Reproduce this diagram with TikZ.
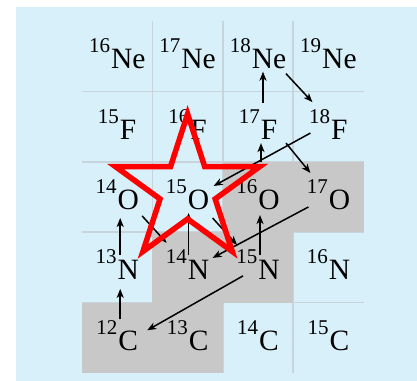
\documentclass[tikz,border=0pt]{standalone}
\usepackage{fontspec}
\setmainfont{Liberation Serif}
\usetikzlibrary{arrows.meta}
\definecolor{skyblue}{RGB}{215,240,250}
\definecolor{gridgrey}{RGB}{200,212,220}
\definecolor{stablegrey}{RGB}{200,200,200}
\definecolor{starred}{RGB}{255,0,0}
\newcommand{\nuc}[2]{\raisebox{16pt}{\fontsize{21}{21}\selectfont #1}\kern1pt#2}
\tikzset{
    nuclide/.style={
        inner sep=0pt,
        font=\fontsize{29.5}{31}\selectfont,
        yshift=2.5pt
    },
    decay/.style={
        -{Stealth[length=9pt,width=7pt,inset=2.5pt]},
        line width=1.5pt
    },
    gridline/.style={gridgrey, line width=1.6pt},
    highlight/.style={draw=starred, line width=5.5pt, line join=miter}
}

\begin{document}
\begin{tikzpicture}[x=70.4pt,y=70.4pt]

% Frame and background
\useasboundingbox (-1.1648,-0.1136) rectangle (4.7585,5.2983);
\fill[skyblue] (-0.9375,-0.1136) rectangle (4.7585,5.1989);

% Grid
\foreach \i in {1,2,3}
    \draw[gridline] (\i,0) -- (\i,5);
\foreach \j in {1,2,3,4}
    \draw[gridline] (0,\j) -- (4,\j);

% Stable nuclei
\fill[stablegrey] (0,0) rectangle (2,1);
\fill[stablegrey] (1,1) rectangle (3,2);
\fill[stablegrey] (2,2) rectangle (4,3);

% Neon
\node[nuclide] (ne16) at (0.5,4.5) {\nuc{16}{Ne}};
\node[nuclide] (ne17) at (1.5,4.5) {\nuc{17}{Ne}};
\node[nuclide] (ne18) at (2.5,4.5) {\nuc{18}{Ne}};
\node[nuclide] (ne19) at (3.5,4.5) {\nuc{19}{Ne}};

% Fluorine
\node[nuclide] (f15) at (0.5,3.5) {\nuc{15}{F}};
\node[nuclide] (f16) at (1.5,3.5) {\nuc{16}{F}};
\node[nuclide] (f17) at (2.5,3.5) {\nuc{17}{F}};
\node[nuclide] (f18) at (3.5,3.5) {\nuc{18}{F}};

% Oxygen
\node[nuclide] (o14) at (0.5,2.5) {\nuc{14}{O}};
\node[nuclide] (o15) at (1.5,2.5) {\nuc{15}{O}};
\node[nuclide] (o16) at (2.5,2.5) {\nuc{16}{O}};
\node[nuclide] (o17) at (3.5,2.5) {\nuc{17}{O}};

% Nitrogen
\node[nuclide] (n13) at (0.5,1.5) {\nuc{13}{N}};
\node[nuclide] (n14) at (1.5,1.5) {\nuc{14}{N}};
\node[nuclide] (n15) at (2.5,1.5) {\nuc{15}{N}};
\node[nuclide] (n16) at (3.5,1.5) {\nuc{16}{N}};

% Carbon
\node[nuclide] (c12) at (0.5,0.5) {\nuc{12}{C}};
\node[nuclide] (c13) at (1.5,0.5) {\nuc{13}{C}};
\node[nuclide] (c14) at (2.5,0.5) {\nuc{14}{C}};
\node[nuclide] (c15) at (3.5,0.5) {\nuc{15}{C}};

% CNO cycle
\draw[decay] ([shift={(3pt,16pt)}]c12.center) -- ([shift={(3pt,-24pt)}]n13.center);
\draw[decay] ([shift={(3pt,10pt)}]n13.center) -- ([shift={(3pt,-23.5pt)}]o14.center);
\draw[decay] ([shift={(25pt,-21.5pt)}]o14.center) -- ([shift={(-21pt,22pt)}]n14.center);
\draw[decay] ([shift={(1pt,10pt)}]n14.center) -- ([shift={(1pt,-18.5pt)}]o15.center);
\draw[decay] ([shift={(25pt,-23.5pt)}]o15.center) -- ([shift={(-21pt,20pt)}]n15.center);
\draw[decay] ([shift={(-15pt,-11pt)}]n15.center) -- ([shift={(30pt,5pt)}]c12.center);
\draw[decay] ([shift={(2pt,10pt)}]n15.center) -- ([shift={(2pt,-20.5pt)}]o16.center);
\draw[decay] ([shift={(-20pt,-12.5pt)}]o17.center) -- ([shift={(25pt,7pt)}]n14.center);
\draw[decay] ([shift={(3pt,32pt)}]o16.center) -- ([shift={(3pt,-19pt)}]f17.center);
\draw[decay] ([shift={(28pt,-19pt)}]f17.center) -- ([shift={(-18pt,21.5pt)}]o17.center);
\draw[decay] ([shift={(5pt,21pt)}]f17.center) -- ([shift={(5pt,-18pt)}]ne18.center);
\draw[decay] ([shift={(28pt,-20pt)}]ne18.center) -- ([shift={(-16pt,22pt)}]f18.center);
\draw[decay] ([shift={(-18pt,-9pt)}]f18.center) -- ([shift={(26pt,8.5pt)}]o15.center);

% Highlight star over 15O
\coordinate (mark) at ([shift={(0pt,4.5pt)}]o15.center);
\draw[highlight, shift={(mark)}]
    (90:76pt) -- (126:29pt) -- (162:76pt) -- (198:29pt) -- (234:76pt)
    -- (270:29pt) -- (306:76pt) -- (342:29pt) -- (18:76pt) -- (54:29pt) -- cycle;

\end{tikzpicture}
\end{document}
